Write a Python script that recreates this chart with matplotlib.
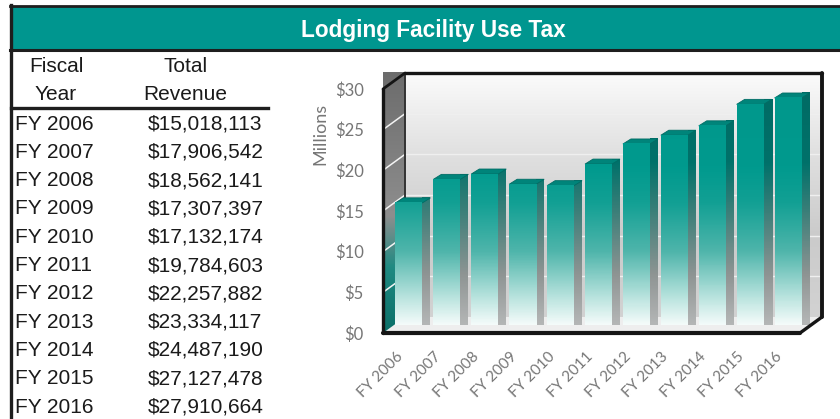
import numpy as np
import matplotlib.pyplot as plt
from matplotlib.colors import LinearSegmentedColormap
from matplotlib.patches import Polygon, Rectangle
from matplotlib.lines import Line2D
from matplotlib.transforms import ScaledTranslation

title = 'Lodging Facility Use Tax'
years = ['FY 2006', 'FY 2007', 'FY 2008', 'FY 2009', 'FY 2010', 'FY 2011',
         'FY 2012', 'FY 2013', 'FY 2014', 'FY 2015', 'FY 2016']
revenue = [15018113, 17906542, 18562141, 17307397, 17132174, 19784603,
           22257882, 23334117, 24487190, 27127478, 27910664]
yticks = [0, 5, 10, 15, 20, 25, 30]
ylabels = ['$0', '$5', '$10', '$15', '$20', '$25', '$30']

millions = [v / 1e6 for v in revenue]

W, H = 840, 419
fig = plt.figure(figsize=(8.4, 4.19), dpi=100)
fig.patch.set_facecolor('white')


def fx(x):
    return x / W


def fy(y):
    return 1 - y / H


# header banner and frame
fig.add_artist(Rectangle((fx(11), fy(50)), 1 - fx(11), fy(7) - fy(50),
                         transform=fig.transFigure, facecolor='#00968f', edgecolor='none'))
fig.add_artist(Line2D([fx(10), 1], [fy(6.5), fy(6.5)], color='#1e1e1e', lw=2))
fig.add_artist(Line2D([fx(10), 1], [fy(50.5), fy(50.5)], color='#1e1e1e', lw=2.2))
fig.add_artist(Line2D([fx(11), fx(11)], [fy(5.5), 0], color='#1e1e1e', lw=2.4))
fig.text(fx(433), fy(30), title, color='white', fontsize=16.3, fontweight='bold',
         family='Liberation Sans', ha='center', va='center')

# table
tfont = dict(family='Liberation Sans', fontsize=15, color='#1a1a1a', va='center')
fig.text(fx(56), fy(66), 'Fiscal', ha='center', **tfont)
fig.text(fx(56), fy(95), 'Year', ha='center', **tfont)
fig.text(fx(186), fy(66), 'Total', ha='center', **tfont)
fig.text(fx(185), fy(95), 'Revenue', ha='center', **tfont)
fig.add_artist(Line2D([fx(11), fx(268)], [fy(108.5), fy(108.5)], color='#1e1e1e', lw=2.4))
for i, (yr, val) in enumerate(zip(years, revenue)):
    ypos = fy(124 + i * 28.3)
    fig.text(fx(15), ypos, yr, ha='left', **tfont)
    fig.text(fx(148), ypos, '${:,}'.format(val), ha='left', **tfont)

# chart
ax = fig.add_axes([fx(383), fy(333), (800 - 383) / W, (333 - 89) / H])
ax.set_xlim(0, 11)
ax.set_ylim(0, 30)
for s in ax.spines.values():
    s.set_visible(False)
ax.patch.set_visible(False)

pxx = 417 / 11
pxy = 244 / 30
dx, dy = 22 / pxx, 16 / pxy          # depth of the walls
bw = 27 / pxx                         # bar front width
bx, by = 7 / pxx, 8 / pxy             # bar depth shift
sx, sy = 8 / pxx, 5 / pxy             # bar side/top depth

wall_cmap = LinearSegmentedColormap.from_list('wall', ['#d2d2d2', '#cbcbcb', '#e0e0e0', '#fbfbfb'])
left_cmap = LinearSegmentedColormap.from_list('left', [(0, '#0b6f68'), (0.25, '#1f8a82'),
                                                      (0.45, '#8e8e8e'), (1, '#6c6c6c')])
front_cmap = LinearSegmentedColormap.from_list('front', [(0, '#f4fbfa'), (0.1, '#bfe6e1'),
                                                        (0.3, '#4fb5ab'), (0.5, '#12a094'),
                                                        (0.65, '#009a8e'), (1, '#00978b')])
side_cmap = LinearSegmentedColormap.from_list('side', [(0, '#b4b6b6'), (0.2, '#8e9493'),
                                                      (0.45, '#3c7f79'), (0.65, '#00716a'),
                                                      (1, '#006a63')])

grad = np.linspace(1, 0, 200)[:, None]

# back wall
ax.imshow(grad, extent=(dx, 11 + dx, dy, 30 + dy), cmap=wall_cmap, vmin=0, vmax=1,
          aspect='auto', zorder=0.5, clip_on=False)
for t in yticks[1:-1]:
    ax.plot([dx, 11 + dx], [t + dy, t + dy], color='#efefef', lw=1, zorder=0.6, clip_on=False)

# left wall
lw_poly = Polygon([(0, 0), (0, 30), (dx, 30 + dy), (dx, dy)], closed=True,
                  facecolor='none', edgecolor='none', clip_on=False)
ax.add_patch(lw_poly)
im = ax.imshow(grad, extent=(0, dx, 0, 30 + dy), cmap=left_cmap, vmin=0, vmax=1,
               aspect='auto', zorder=1, clip_on=False)
im.set_clip_path(lw_poly)
for t in yticks[1:-1]:
    ax.plot([0, dx], [t, t + dy], color='#f4f4f4', lw=1.1, zorder=1.1, clip_on=False)

# floor
ax.add_patch(Polygon([(0, 0), (11, 0), (11 + dx, dy), (dx, dy)], closed=True,
                     facecolor='#eeeeee', edgecolor='none', zorder=1, clip_on=False))

# bars
for i, v in enumerate(millions):
    x0 = i + 0.5 - bw / 2 + bx
    x1 = x0 + bw
    y0 = by
    y1 = v + by
    side = Polygon([(x1, y0), (x1, y1), (x1 + sx, y1 + sy), (x1 + sx, y0 + sy)], closed=True,
                   facecolor='none', edgecolor='none', clip_on=False)
    ax.add_patch(side)
    sim = ax.imshow(np.linspace(v, 0, 200)[:, None], extent=(x1, x1 + sx, y0, y1 + sy),
                    cmap=side_cmap, vmin=0, vmax=30, aspect='auto', zorder=3, clip_on=False)
    sim.set_clip_path(side)
    ax.add_patch(Polygon([(x0, y1), (x1, y1), (x1 + sx, y1 + sy), (x0 + sx, y1 + sy)], closed=True,
                         facecolor='#00847a', edgecolor='#006c64', lw=0.6, zorder=3.5, clip_on=False))
    ax.imshow(np.linspace(v, 0, 200)[:, None], extent=(x0, x1, y0, y1), cmap=front_cmap,
              vmin=0, vmax=30, aspect='auto', zorder=4, clip_on=False)

# outline of the box
edge = dict(color='#151515', clip_on=False, zorder=5, solid_capstyle='round')
ax.plot([0, 11], [0, 0], lw=3, **edge)
ax.plot([11, 11 + dx], [0, dy], lw=2.4, **edge)
ax.plot([11 + dx, 11 + dx], [dy, 30 + dy], lw=2.8, **edge)
ax.plot([dx, 11 + dx], [30 + dy, 30 + dy], lw=2.4, **edge)
ax.plot([0, 0], [0, 30], lw=2.4, **edge)
ax.plot([0, dx], [30, 30 + dy], lw=2, **edge)
ax.plot([dx, dx], [dy, 30 + dy], lw=1.4, color='#333333', clip_on=False, zorder=1.2)

ax.set_xlim(0, 11)
ax.set_ylim(0, 30)
ax.set_yticks(yticks, ylabels, family='Lato', fontsize=12, color='#767676')
ax.set_xticks([i + 0.5 for i in range(len(years))], years, rotation=45, ha='right',
              rotation_mode='anchor', family='Lato', fontsize=11, color='#767676')
ax.tick_params(axis='y', length=0, pad=14)
ax.tick_params(axis='x', length=0, pad=12)
shift = ScaledTranslation(-6 / 100, 0, fig.dpi_scale_trans)
for lab in ax.get_xticklabels():
    lab.set_transform(lab.get_transform() + shift)
fig.text(fx(320), fy(134), 'Millions', rotation=90, ha='center', va='center',
         family='Lato', fontsize=13, color='#767676')

fig.savefig('out.png', dpi=100)
